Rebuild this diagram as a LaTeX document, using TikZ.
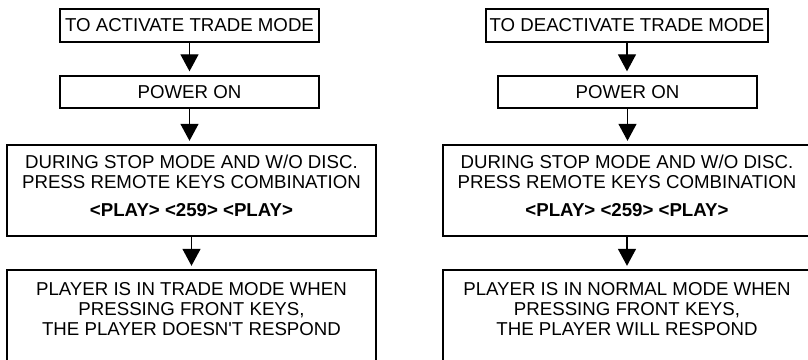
\documentclass[tikz,border=0pt]{standalone}
\usepackage{fontspec}
\setmainfont{Liberation Sans}
\usetikzlibrary{arrows.meta}

\begin{document}
\begin{tikzpicture}[x=0.75pt,y=-0.75pt,
  box/.style={draw,line width=1.5pt,inner sep=1pt,align=center,
    font=\fontsize{14pt}{15pt}\selectfont},
  small/.style={box,minimum width=194.25pt,minimum height=24.5pt},
  big/.style={box,minimum width=276.75pt,minimum height=68pt},
  flow/.style={-{Triangle[width=13.5pt,length=12.75pt]},line width=1pt,shorten >=2.5pt}]
\useasboundingbox (0,0) rectangle (808,360);
% activate column
\node[small] (a1) at (189.5,25.5) {TO ACTIVATE TRADE MODE};
\node[small] (a2) at (189.5,92) {POWER ON};
\node[big,text depth=7.5pt] (a3) at (191.5,190.5) {DURING STOP MODE AND W/O DISC.\\PRESS REMOTE KEYS COMBINATION\\[6pt]\textbf{<PLAY> <259> <PLAY>}};
\node[big,text depth=10.5pt] (a4) at (191.5,315.5) {PLAYER IS IN TRADE MODE WHEN\\PRESSING FRONT KEYS,\\THE PLAYER DOESN\textquotesingle T RESPOND};
% deactivate column
\node[small,minimum width=211.5pt] (d1) at (627,25.5) {TO DEACTIVATE TRADE MODE};
\node[small] (d2) at (627.5,92) {POWER ON};
\node[big,text depth=7.5pt] (d3) at (627,190.5) {DURING STOP MODE AND W/O DISC.\\PRESS REMOTE KEYS COMBINATION\\[6pt]\textbf{<PLAY> <259> <PLAY>}};
\node[big,text depth=10.5pt] (d4) at (627,315.5) {PLAYER IS IN NORMAL MODE WHEN\\PRESSING FRONT KEYS,\\THE PLAYER WILL RESPOND};
% arrows
\draw[flow] (a1.south) -- (a1.south |- a2.north);
\draw[flow] (a2.south) -- (a2.south |- a3.north);
\draw[flow] (a3.south) -- (a3.south |- a4.north);
\draw[flow] (d1.south) -- (d1.south |- d2.north);
\draw[flow] (d2.south) -- (d2.south |- d3.north);
\draw[flow] (d3.south) -- (d3.south |- d4.north);
\end{tikzpicture}
\end{document}
